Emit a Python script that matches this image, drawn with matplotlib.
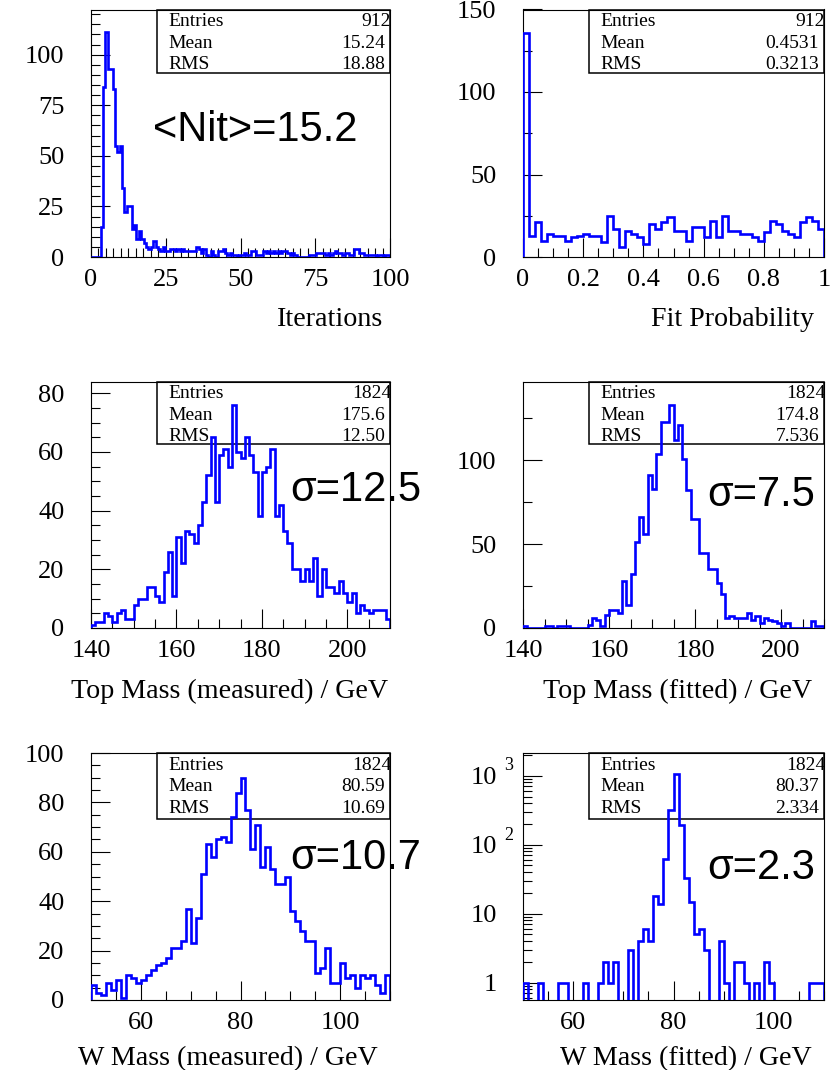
import numpy as np
import matplotlib.pyplot as plt
from matplotlib.patches import Rectangle
from matplotlib.ticker import MultipleLocator, LogLocator, NullFormatter

W, H = 834, 1070
SERIF = 'Liberation Serif'
SANS = 'Liberation Sans'
BLUE = '#0000ff'

plt.rcParams['font.family'] = SERIF

# number of fit iterations, 125 bins in [0, 100]
nit_counts = [
    0, 0, 0, 0, 15, 84, 111, 93, 93, 83, 55, 52, 55, 34, 22, 25, 25, 14, 16, 9,
    13, 9, 7, 5, 4, 5, 8, 5, 4, 3, 5, 3, 3, 4, 4, 3, 4, 3, 4, 3,
    3, 3, 3, 3, 5, 4, 2, 4, 1, 0, 3, 1, 0, 3, 3, 4, 2, 1, 2, 1,
    1, 0, 1, 1, 2, 1, 1, 3, 3, 1, 1, 1, 3, 2, 3, 2, 3, 2, 3, 2,
    3, 3, 2, 1, 2, 1, 0, 0, 0, 0, 0, 1, 1, 1, 2, 2, 2, 2, 1, 2,
    1, 2, 3, 2, 2, 1, 2, 2, 1, 1, 4, 4, 2, 2, 1, 1, 1, 1, 1, 0,
    1, 1, 0, 1, 1,
]
# fit probability, 50 bins in [0, 1]
prob_counts = [
    136, 13, 21, 10, 14, 13, 13, 10, 12, 13, 14, 13, 13, 9, 25, 17, 6, 16, 14, 12,
    8, 20, 17, 21, 24, 16, 16, 10, 18, 18, 12, 22, 12, 25, 16, 16, 14, 14, 12, 10,
    15, 22, 20, 16, 14, 12, 21, 24, 22, 17,
]
# top mass, 70 bins in [140, 210] GeV
mtop_meas_counts = [
    1, 2, 2, 5, 4, 2, 5, 6, 3, 3, 8, 10, 10, 14, 14, 11, 9, 19, 26, 11,
    31, 22, 33, 32, 29, 35, 43, 52, 65, 43, 59, 61, 55, 76, 60, 58, 65, 59, 53, 38,
    53, 55, 61, 38, 42, 33, 29, 20, 20, 16, 20, 16, 24, 11, 20, 14, 14, 12, 16, 12,
    9, 12, 5, 8, 6, 5, 6, 6, 6, 3,
]
mtop_fit_counts = [
    1, 0, 0, 0, 0, 1, 1, 0, 1, 1, 1, 0, 0, 0, 0, 2, 6, 5, 1, 8,
    11, 11, 9, 28, 14, 32, 51, 66, 56, 91, 83, 104, 123, 123, 133, 112, 121, 101, 82, 65,
    65, 45, 45, 35, 35, 27, 20, 6, 7, 6, 6, 6, 9, 5, 7, 3, 6, 5, 4, 3,
    1, 3, 0, 0, 0, 0, 0, 4, 1, 1,
]
# W mass, 60 bins in [50, 110] GeV
mw_meas_counts = [
    6, 3, 2, 7, 4, 8, 1, 10, 9, 7, 8, 10, 12, 14, 15, 17, 21, 21, 24, 37,
    23, 33, 51, 63, 58, 65, 66, 64, 74, 84, 90, 77, 61, 71, 54, 62, 53, 47, 47, 50,
    36, 32, 28, 24, 24, 11, 13, 21, 7, 7, 15, 9, 10, 5, 10, 9, 10, 6, 3, 10,
]
mw_fit_counts = [
    1, 0, 0, 1, 0, 0, 0, 1, 1, 0, 0, 0, 1, 0, 0, 1, 2, 1, 2, 0,
    0, 3, 0, 4, 6, 4, 18, 14, 63, 324, 1045, 195, 33, 15, 5, 6, 3, 0, 0, 4,
    1, 0, 2, 2, 1, 0, 1, 0, 2, 1, 0, 0, 0, 0, 0, 0, 0, 1, 1, 1,
]

# entries, mean, rms
nit_stats = ['912', '15.24', '18.88']
prob_stats = ['912', '0.4531', '0.3213']
mtop_meas_stats = ['1824', '175.6', '12.50']
mtop_fit_stats = ['1824', '174.8', '7.536']
mw_meas_stats = ['1824', '80.59', '10.69']
mw_fit_stats = ['1824', '80.37', '2.334']

fig = plt.figure(figsize=(W / 100, H / 100), dpi=100)


def fig_text(x, y, s, **kw):
    return fig.text(x / W, 1 - y / H, s, **kw)


def panel(frame, counts, lo, hi, ylim, xticks, xlabels, xminor, yticks, ylabels,
          yminor, stats, box_left, box_bottom, title, title_pos, note=None,
          note_pos=None, logy=False):
    x0, y0, x1, y1 = frame
    ax = fig.add_axes([x0 / W, 1 - y1 / H, (x1 - x0) / W, (y1 - y0) / H])
    edges = np.linspace(lo, hi, len(counts) + 1)
    vals = np.asarray(counts, dtype=float)
    if logy:
        ax.set_yscale('log')
        floor = ylim[0] / 10
        ax.stairs(np.maximum(vals, floor), edges, baseline=floor,
                  color=BLUE, lw=1.9, zorder=3)
    else:
        ax.stairs(vals, edges, baseline=0, color=BLUE, lw=1.9, zorder=3)
    ax.set_xlim(lo, hi)
    ax.set_ylim(*ylim)

    ax.set_xticks(xticks, xlabels)
    ax.xaxis.set_minor_locator(MultipleLocator(xminor))
    ax.set_yticks(yticks, ylabels)
    if logy:
        ax.yaxis.set_minor_locator(LogLocator(base=10, subs=np.arange(2, 10)))
        ax.yaxis.set_minor_formatter(NullFormatter())
    else:
        ax.yaxis.set_minor_locator(MultipleLocator(yminor))
    ax.set_ylim(*ylim)
    ax.tick_params(which='both', direction='in', top=False, right=False,
                   width=0.8, labelsize=19)
    ax.tick_params(which='major', length=13.5)
    ax.tick_params(which='minor', length=6.5)
    ax.tick_params(axis='y', pad=19)
    ax.tick_params(axis='x', pad=8.5)
    for sp in ax.spines.values():
        sp.set_linewidth(0.8)

    # statistics box
    fw, fh = x1 - x0, y1 - y0
    ax.add_patch(Rectangle(((box_left - x0) / fw, 1 - (box_bottom - y0) / fh),
                           (x1 - box_left) / fw, (box_bottom - y0) / fh,
                           transform=ax.transAxes, fill=False, ec='black',
                           lw=1.1, zorder=2, clip_on=False))
    names = ['Entries', 'Mean', 'RMS']
    for k, (name, val) in enumerate(zip(names, stats)):
        yy = y0 + 12 + 21.6 * k
        fig_text(box_left + 11, yy, name, fontsize=14, ha='left', va='center')
        xr = x1 + 1 if k == 0 else x1 - 5
        fig_text(xr, yy, val, fontsize=14, ha='right', va='center')

    fig_text(title_pos[0], title_pos[1], title, fontsize=20.2,
             ha='right', va='center')
    if note:
        fig_text(note_pos[0], note_pos[1], note, fontsize=30, family=SANS,
                 ha='left', va='center')
    return ax


panel((91, 9.5, 390, 257), nit_counts, 0, 100, (0, 122.3),
      [0, 25, 50, 75, 100], ['0', '25', '50', '75', '100'], 2.5,
      [0, 25, 50, 75, 100], ['0', '25', '50', '75', '100'], 5,
      nit_stats, 157, 73, 'Iterations', (383, 320),
      '<Nit>=15.2', (153, 130))

panel((523, 9.5, 824, 257), prob_counts, 0, 1, (0, 150),
      [0, 0.2, 0.4, 0.6, 0.8, 1], ['0', '0.2', '0.4', '0.6', '0.8', '1'], 0.05,
      [0, 50, 100, 150], ['0', '50', '100', '150'], 25,
      prob_stats, 589, 73, 'Fit Probability', (814, 320))

panel((91, 381.5, 390, 628), mtop_meas_counts, 140, 210, (0, 84),
      [140, 160, 180, 200], ['140', '160', '180', '200'], 5,
      [0, 20, 40, 60, 80], ['0', '20', '40', '60', '80'], 5,
      mtop_meas_stats, 157, 444, 'Top Mass (measured) / GeV', (388, 691),
      '\u03c3=12.5', (290, 490))

panel((523, 381.5, 824, 628), mtop_fit_counts, 140, 210, (0, 147),
      [140, 160, 180, 200], ['140', '160', '180', '200'], 5,
      [0, 50, 100], ['0', '50', '100'], 25,
      mtop_fit_stats, 589, 444, 'Top Mass (fitted) / GeV', (812, 691),
      '\u03c3=7.5', (707, 495))

panel((91, 753, 390, 1000), mw_meas_counts, 50, 110, (0, 100),
      [60, 80, 100], ['60', '80', '100'], 5,
      [0, 20, 40, 60, 80, 100], ['0', '20', '40', '60', '80', '100'], 5,
      mw_meas_stats, 157, 819, 'W Mass (measured) / GeV', (378, 1059),
      '\u03c3=10.7', (290, 858))

panel((523, 753, 824, 1000), mw_fit_counts, 50, 110, (0.56, 2140),
      [60, 80, 100], ['60', '80', '100'], 5,
      [1, 10, 100, 1000], ['1', '10', '10', '10'], None,
      mw_fit_stats, 589, 819, 'W Mass (fitted) / GeV', (812, 1059),
      '\u03c3=2.3', (707, 868), logy=True)

# exponents of the log axis labels
fig_text(504, 835, '2', fontsize=13, ha='left', va='center')
fig_text(504, 766, '3', fontsize=13, ha='left', va='center')

fig.savefig('out.png', dpi=100)
